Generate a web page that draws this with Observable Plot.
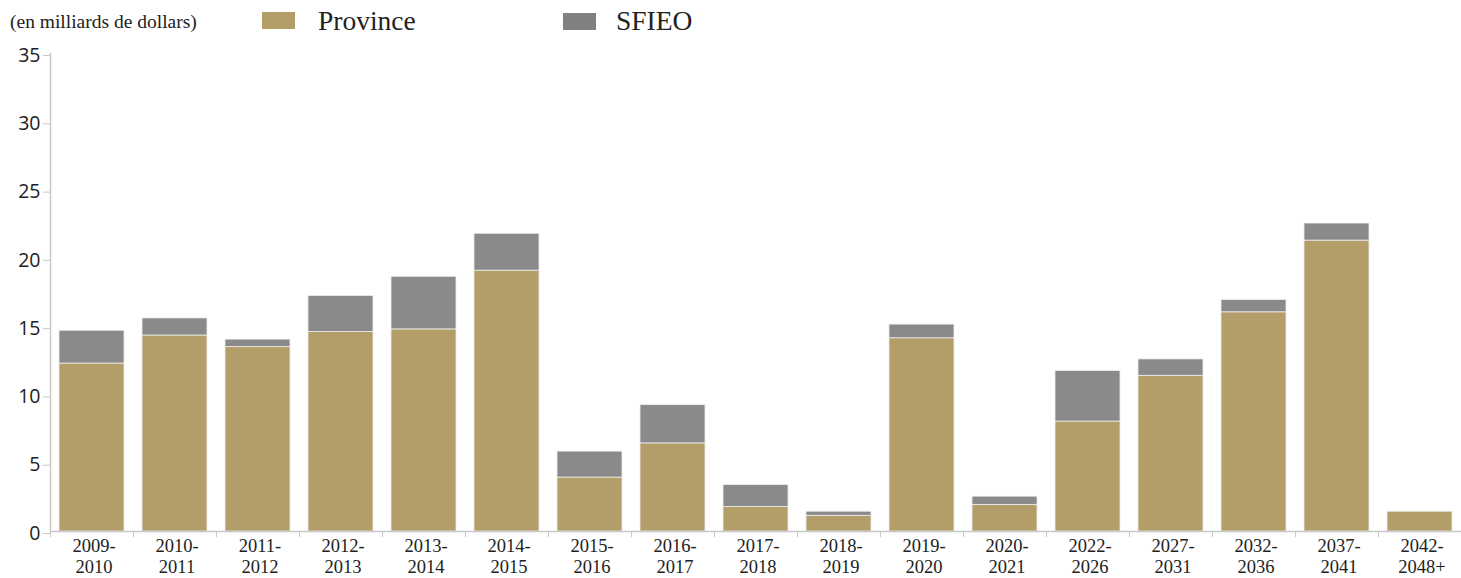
<!DOCTYPE html>
<html>
<head>
<meta charset="utf-8">
<script src="https://cdn.jsdelivr.net/npm/d3@7"></script>
<script src="https://cdn.jsdelivr.net/npm/@observablehq/plot@0.6"></script>
<style>
  body { margin: 0; background: #fff; }
  #legend { position: relative; height: 38px; width: 1461px; font-family: "Liberation Serif", "Times New Roman", serif; color: #222; font-size: 0; }
  #legend .unit { position: absolute; left: 10px; top: 12px; font-size: 19.5px; line-height: 1; }
  #legend .sw { position: absolute; width: 33px; height: 17px; top: 12px; }
  #legend .lab { position: absolute; top: 7px; font-size: 27.5px; line-height: 1; }
  #chart svg { display: block; }
</style>
</head>
<body>
<div id="legend"></div>
<div id="chart"></div>
<script>
const categories = ["2009-2010","2010-2011","2011-2012","2012-2013","2013-2014","2014-2015","2015-2016","2016-2017","2017-2018","2018-2019","2019-2020","2020-2021","2022-2026","2027-2031","2032-2036","2037-2041","2042-2048+"];
const province = [12.3, 14.35, 13.5, 14.6, 14.8, 19.1, 3.95, 6.45, 1.8, 1.15, 14.15, 1.95, 8.05, 11.4, 16.05, 21.3, 1.45];
const sfieo    = [2.4, 1.25, 0.55, 2.65, 3.85, 2.7, 1.9, 2.8, 1.6, 0.3, 1.0, 0.6, 3.7, 1.2, 0.9, 1.25, 0];
const seriesNames = ["Province", "SFIEO"];
const seriesColors = ["#b39d68", "#8a8a8a"];
const yTicks = [0, 5, 10, 15, 20, 25, 30, 35];
const unitLabel = "(en milliards de dollars)";

// legend
const legend = document.getElementById("legend");
legend.innerHTML = `<span class="unit">${unitLabel}</span>
  <span class="sw" style="left:262px;top:12px;background:${seriesColors[0]}"></span>
  <span class="lab" style="left:318px;top:7px">${seriesNames[0]}</span>
  <span class="sw" style="left:563px;top:13px;background:#808080"></span>
  <span class="lab" style="left:616px;top:7px">${seriesNames[1]}</span>`;

const rows = [];
categories.forEach((c, i) => {
  rows.push({cat: c, series: seriesNames[0], value: province[i]});
  rows.push({cat: c, series: seriesNames[1], value: sfieo[i]});
});

const W = 1461, ML = 50, MR = 0;
const step = (W - ML - MR) / categories.length;

const chart = Plot.plot({
  width: W,
  height: 540,
  marginLeft: ML,
  marginRight: MR,
  marginTop: 15,
  marginBottom: 47,
  style: {background: "#fff", overflow: "visible"},
  x: {domain: categories, paddingInner: 0.217, paddingOuter: 0.108, label: null},
  y: {domain: [0, 35], label: null},
  color: {domain: seriesNames, range: seriesColors},
  marks: [
    Plot.barY(rows, Plot.stackY({x: "cat", y: "value", fill: "series", stroke: "#eeeeee", strokeWidth: 0.8})),
    Plot.ruleY([0], {stroke: "#c8c8c8", strokeWidth: 1.5}),
    Plot.frame({anchor: "left", stroke: "#c8c8c8", strokeWidth: 1.5}),
    Plot.axisY({ticks: yTicks, tickSize: 7, tickPadding: 3, stroke: "#c8c8c8", fontSize: 19.5, fontFamily: "Open Sans", fill: "#222", label: null, tickFormat: d => d, dy: 2}),
    Plot.axisX({tickSize: 6, dx: -step / 2, stroke: "#c8c8c8", tickFormat: () => "", label: null}),
    Plot.axisX({tickSize: 0, tickPadding: 6, fontSize: 18.5, fontFamily: "Liberation Serif", fill: "#222", lineHeight: 1.13, label: null, dx: 2,
      tickFormat: d => d.replace("-", "-\n")})
  ]
});
document.getElementById("chart").appendChild(chart);
</script>
</body>
</html>
